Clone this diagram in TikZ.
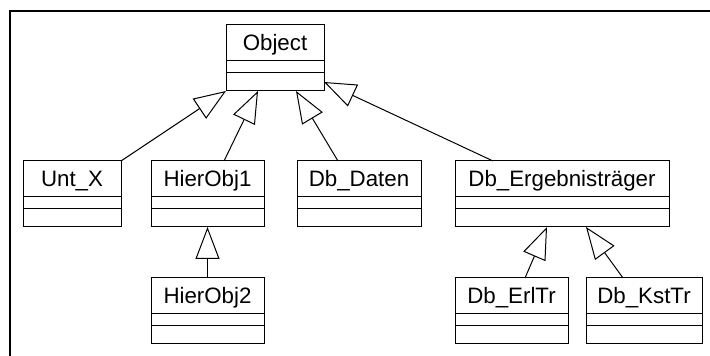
\documentclass[tikz,border=0pt]{standalone}
\usepackage{fontspec}
\setmainfont{Liberation Sans}
\usepackage{tikz}
\usetikzlibrary{positioning,arrows.meta,calc}
\tikzset{
  cname/.style={rectangle, draw=black, line width=0.5pt, fill=white, anchor=north,
                minimum height=18pt, inner ysep=0pt, inner xsep=2pt, outer sep=0pt,
                text height=8pt, text depth=0pt,
                font=\fontsize{11.15}{13}\selectfont},
  cattr/.style={rectangle, draw=black, line width=0.5pt, fill=white,
                minimum height=6pt, inner sep=0pt, outer sep=0pt},
  cops/.style ={cattr, minimum height=9pt},
  inh/.style  ={-{Triangle[open, length=16pt, width=12pt]}, line width=0.5pt},
  frame/.style={line width=1pt, black},
}

\begin{document}
\begin{tikzpicture}[x=0.5pt, y=-0.5pt]
  \useasboundingbox (0,0) rectangle (710,356);
  \draw[frame] (10,356) |- (710,11);

  % classes
  \node[cname, minimum width=49pt] (object) at (275,25) {Object};
  \node[cattr, minimum width=49pt, below=0pt of object] (object-a) {};
  \node[cops, minimum width=49pt, below=0pt of object-a] (object-o) {};

  \node[cname, minimum width=49pt] (untx) at (72,161) {Unt\_X};
  \node[cattr, minimum width=49pt, below=0pt of untx] (untx-a) {};
  \node[cops, minimum width=49pt, below=0pt of untx-a] (untx-o) {};

  \node[cname, minimum width=56.5pt] (hier1) at (207.5,161) {HierObj1};
  \node[cattr, minimum width=56.5pt, below=0pt of hier1] (hier1-a) {};
  \node[cops, minimum width=56.5pt, below=0pt of hier1-a] (hier1-o) {};

  \node[cname, minimum width=62pt] (daten) at (359,161) {Db\_Daten};
  \node[cattr, minimum width=62pt, below=0pt of daten] (daten-a) {};
  \node[cops, minimum width=62pt, below=0pt of daten-a] (daten-o) {};

  \node[cname, minimum width=107pt] (erg) at (562,161) {Db\_Ergebnisträger};
  \node[cattr, minimum width=107pt, below=0pt of erg] (erg-a) {};
  \node[cops, minimum width=107pt, below=0pt of erg-a] (erg-o) {};

  \node[cname, minimum width=56.5pt] (hier2) at (207.5,278) {HierObj2};
  \node[cattr, minimum width=56.5pt, below=0pt of hier2] (hier2-a) {};
  \node[cops, minimum width=56.5pt, below=0pt of hier2-a] (hier2-o) {};

  \node[cname, minimum width=56.5pt] (erltr) at (511.5,278) {Db\_ErlTr};
  \node[cattr, minimum width=56.5pt, below=0pt of erltr] (erltr-a) {};
  \node[cops, minimum width=56.5pt, below=0pt of erltr-a] (erltr-o) {};

  \node[cname, minimum width=58pt] (kst) at (644,278) {Db\_KstTr};
  \node[cattr, minimum width=58pt, below=0pt of kst] (kst-a) {};
  \node[cops, minimum width=58pt, below=0pt of kst-a] (kst-o) {};

  % inheritance
  \draw[inh] (untx.north east) -- (object-o.south west);
  \draw[inh] ($(hier1.north)+(16.5,0)$) -- ($(object-o.south)+(-17,0)$);
  \draw[inh] ($(daten.north)+(-21,0)$) -- ($(object-o.south)+(21,0)$);
  \draw[inh] ($(erg.north)+(-69,0)$) -- (object-o.east);
  \draw[inh] (hier2.north) -- (hier1-o.south);
  \draw[inh] ($(erltr.north)+(13.5,0)$) -- ($(erg-o.south)+(-15,0)$);
  \draw[inh] ($(kst.north)+(-21,0)$) -- ($(erg-o.south)+(24,0)$);
\end{tikzpicture}
\end{document}
